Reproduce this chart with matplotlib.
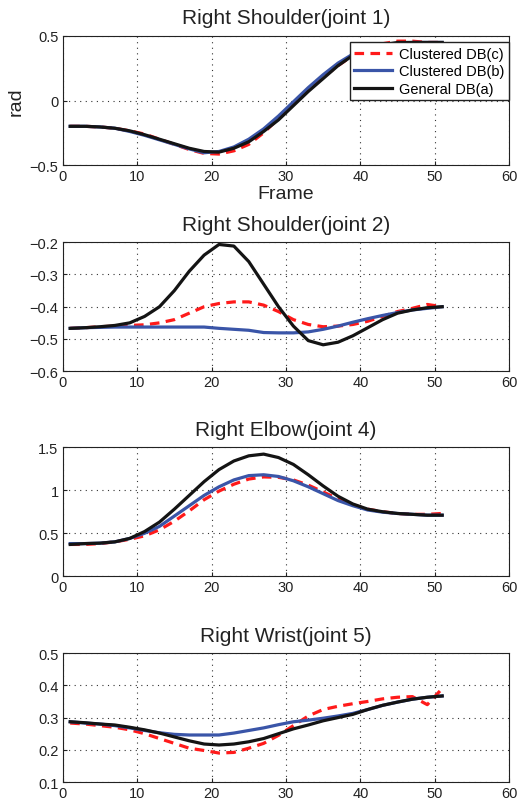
import matplotlib.pyplot as plt

plt.rcParams['font.family'] = ['Liberation Sans', 'DejaVu Sans']

frames = list(range(1, 52, 2))

# joint 1
j1_general = [-0.2, -0.2, -0.205, -0.215, -0.235, -0.265, -0.3, -0.335, -0.37, -0.395, -0.4, -0.37, -0.32,
              -0.24, -0.15, -0.04, 0.07, 0.17, 0.27, 0.35, 0.40, 0.43, 0.45, 0.45, 0.45, 0.45]
j1_clus_b = [-0.2, -0.2, -0.205, -0.215, -0.24, -0.27, -0.305, -0.34, -0.375, -0.405, -0.395, -0.36, -0.3,
             -0.22, -0.12, -0.01, 0.1, 0.2, 0.29, 0.36, 0.41, 0.43, 0.44, 0.45, 0.45, 0.45]
j1_clus_c = [-0.2, -0.2, -0.205, -0.215, -0.235, -0.26, -0.3, -0.34, -0.38, -0.41, -0.415, -0.39, -0.34,
             -0.25, -0.14, -0.03, 0.08, 0.18, 0.27, 0.35, 0.41, 0.44, 0.46, 0.46, 0.45, 0.45]

# joint 2
j2_general = [-0.467, -0.465, -0.462, -0.458, -0.45, -0.43, -0.40, -0.35, -0.29, -0.24, -0.207, -0.212,
              -0.26, -0.33, -0.40, -0.46, -0.505, -0.518, -0.51, -0.49, -0.465, -0.44, -0.42, -0.41,
              -0.403, -0.40]
j2_clus_b = [-0.467, -0.465, -0.464, -0.463, -0.463, -0.463, -0.463, -0.463, -0.463, -0.463, -0.467,
             -0.47, -0.473, -0.48, -0.481, -0.481, -0.478, -0.47, -0.46, -0.448, -0.437, -0.427, -0.418,
             -0.41, -0.405, -0.40]
j2_clus_c = [-0.467, -0.465, -0.462, -0.46, -0.458, -0.456, -0.45, -0.44, -0.42, -0.40, -0.39, -0.385,
             -0.385, -0.395, -0.415, -0.44, -0.455, -0.462, -0.46, -0.455, -0.445, -0.43, -0.415, -0.405,
             -0.393, -0.40]

# joint 4
j4_general = [0.37, 0.38, 0.385, 0.40, 0.44, 0.52, 0.63, 0.78, 0.94, 1.10, 1.24, 1.34, 1.40, 1.42, 1.38,
              1.30, 1.18, 1.05, 0.93, 0.84, 0.78, 0.75, 0.73, 0.72, 0.71, 0.71]
j4_clus_b = [0.38, 0.38, 0.385, 0.40, 0.44, 0.50, 0.58, 0.70, 0.82, 0.94, 1.04, 1.12, 1.17, 1.18, 1.16,
             1.11, 1.04, 0.96, 0.88, 0.82, 0.77, 0.745, 0.73, 0.72, 0.71, 0.71]
j4_clus_c = [0.37, 0.37, 0.38, 0.40, 0.43, 0.47, 0.54, 0.64, 0.76, 0.89, 0.99, 1.07, 1.13, 1.155, 1.15,
             1.12, 1.06, 0.98, 0.90, 0.83, 0.78, 0.75, 0.73, 0.72, 0.72, 0.73]

# joint 5
j5_general = [0.287, 0.284, 0.28, 0.277, 0.27, 0.262, 0.252, 0.24, 0.228, 0.218, 0.215, 0.218, 0.225,
              0.235, 0.25, 0.265, 0.277, 0.29, 0.30, 0.31, 0.325, 0.338, 0.348, 0.357, 0.363, 0.367]
j5_clus_b = [0.287, 0.283, 0.28, 0.275, 0.268, 0.26, 0.253, 0.248, 0.246, 0.246, 0.246, 0.252, 0.26,
             0.268, 0.278, 0.287, 0.292, 0.298, 0.305, 0.313, 0.325, 0.338, 0.348, 0.357, 0.363, 0.367]
j5_clus_c = [0.283, 0.28, 0.275, 0.27, 0.262, 0.25, 0.235, 0.22, 0.205, 0.198, 0.19, 0.192, 0.205, 0.22,
             0.245, 0.275, 0.305, 0.325, 0.335, 0.343, 0.35, 0.358, 0.363, 0.365, 0.34, 0.39]

titles = ['Right Shoulder(joint 1)', 'Right Shoulder(joint 2)', 'Right Elbow(joint 4)', 'Right Wrist(joint 5)']
series = [(j1_clus_c, j1_clus_b, j1_general),
          (j2_clus_c, j2_clus_b, j2_general),
          (j4_clus_c, j4_clus_b, j4_general),
          (j5_clus_c, j5_clus_b, j5_general)]
ylims = [(-0.5, 0.5), (-0.6, -0.2), (0, 1.5), (0.1, 0.5)]
yticks = [[-0.5, 0, 0.5], [-0.6, -0.5, -0.4, -0.3, -0.2], [0, 0.5, 1, 1.5], [0.1, 0.2, 0.3, 0.4, 0.5]]
yticklabels = [['\u22120.5', '0', '0.5'],
               ['\u22120.6', '\u22120.5', '\u22120.4', '\u22120.3', '\u22120.2'],
               ['0', '0.5', '1', '1.5'],
               ['0.1', '0.2', '0.3', '0.4', '0.5']]
bottoms = [0.7935, 0.537, 0.282, 0.026]

fig = plt.figure(figsize=(5.32, 8.04), dpi=100)

for i in range(4):
    ax = fig.add_axes([0.118, bottoms[i], 0.839, 0.1605])
    c, b, g = series[i]
    ax.plot(frames, c, color='#ff1a1a', lw=2.3, ls='--', dashes=(3, 2), label='Clustered DB(c)')
    ax.plot(frames, b, color='#3a55a8', lw=2.3, label='Clustered DB(b)')
    ax.plot(frames, g, color='#141414', lw=2.3, label='General DB(a)')
    ax.set_xlim(0, 60)
    ax.set_ylim(*ylims[i])
    ax.set_xticks(range(0, 61, 10))
    ax.set_yticks(yticks[i])
    ax.set_yticklabels(yticklabels[i])
    ax.tick_params(direction='in', labelsize=10.5, length=3, pad=3, colors='#222222')
    ax.grid(True, ls=(0, (1, 4)), color='#333333', lw=0.8)
    ax.set_title(titles[i], fontsize=15, pad=9, color='#222222')
    for s in ax.spines.values():
        s.set_color('#222222')
    if i == 0:
        ax.set_xlabel('Frame', fontsize=14, labelpad=1, color='#222222')
        ax.set_ylabel('rad', fontsize=14, labelpad=4, color='#222222')
        leg = ax.legend(loc='upper right', bbox_to_anchor=(1.0, 0.95), borderaxespad=0,
                        fontsize=10.5, fancybox=False, framealpha=1, edgecolor='#222222',
                        handlelength=2.6, borderpad=0.3, labelspacing=0.25, handletextpad=0.5)
        leg.get_frame().set_linewidth(1.0)

fig.savefig('out.png', dpi=100)
